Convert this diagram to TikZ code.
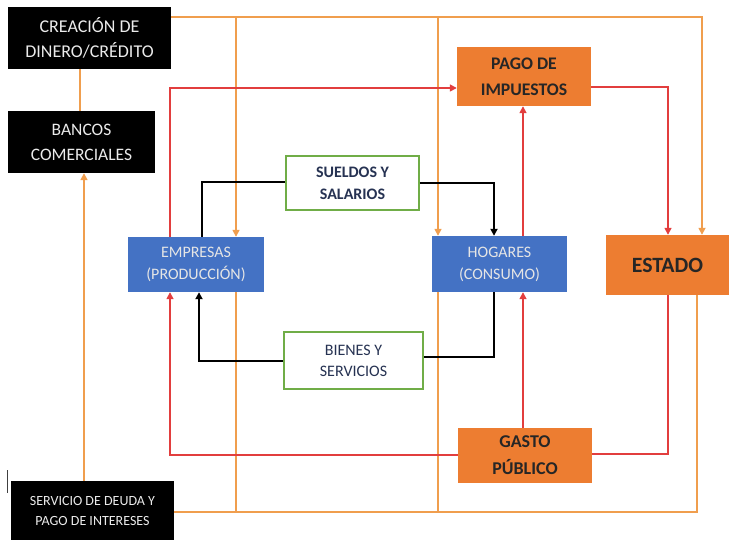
\documentclass[tikz,border=0pt]{standalone}
\usepackage{fontspec}
\setmainfont{Carlito}
\usetikzlibrary{arrows.meta}
\definecolor{lorange}{RGB}{240,158,78}
\definecolor{lred}{RGB}{226,62,62}
\definecolor{borange}{RGB}{237,125,49}
\definecolor{bblue}{RGB}{68,114,196}
\definecolor{bgreen}{RGB}{112,173,71}
\definecolor{navy}{RGB}{38,50,82}
\tikzset{
  blk/.style={fill=black,text=white!92!black,align=center,inner sep=0pt},
  blu/.style={fill=bblue,text=white!90!black,align=center,inner sep=0pt},
  org/.style={fill=borange,text=black!85,align=center,inner sep=0pt},
  grn/.style={draw=bgreen,line width=1.6pt,fill=white,text=navy,align=center,inner sep=0pt},
  oline/.style={draw=lorange,line width=1.6pt},
  rline/.style={draw=lred,line width=1.6pt},
  kline/.style={draw=black,line width=1.8pt},
  tip/.style={-{Triangle[length=7pt,width=7pt]}},
}
\begin{document}
\begin{tikzpicture}[x=1pt,y=-1pt]
\useasboundingbox (0,0) rectangle (729,540);
% boxes
\node[blk,minimum width=163pt,minimum height=62pt,font=\fontsize{18}{25}\selectfont] (cre) at (89.5,38) {CREACIÓN DE\\DINERO/CRÉDITO};
\node[blk,minimum width=147pt,minimum height=62pt,font=\fontsize{17.5}{25}\selectfont] (ban) at (81.5,142) {BANCOS\\COMERCIALES};
\node[blk,minimum width=163pt,minimum height=60pt,font=\fontsize{14}{20}\selectfont] (ser) at (92.5,511) {SERVICIO DE DEUDA Y\\PAGO DE INTERESES};
\node[blu,minimum width=136pt,minimum height=55pt,font=\fontsize{16}{22}\selectfont] (emp) at (196,264.5) {EMPRESAS\\(PRODUCCIÓN)};
\node[blu,minimum width=135pt,minimum height=56pt,font=\fontsize{16}{22}\selectfont] (hog) at (499.5,264) {HOGARES\\(CONSUMO)};
\node[grn,minimum width=133pt,minimum height=54pt,font=\bfseries\fontsize{16}{22}\selectfont] (sue) at (352.5,183) {SUELDOS Y\\SALARIOS};
\node[grn,minimum width=139pt,minimum height=57pt,font=\fontsize{16}{21}\selectfont] (bie) at (353.5,360.5) {BIENES Y\\SERVICIOS};
\node[org,minimum width=123pt,minimum height=60pt,font=\bfseries\fontsize{21.8}{24}\selectfont] (est) at (667.5,265) {ESTADO};
\node[org,minimum width=134pt,minimum height=59pt,font=\bfseries\fontsize{17.7}{26}\selectfont] (pag) at (524,76.5) {PAGO DE\\IMPUESTOS};
\node[org,minimum width=134pt,minimum height=55pt,font=\bfseries\fontsize{18}{27}\selectfont] (gas) at (525,455.5) {GASTO\\PÚBLICO};
% stray mark
\draw[line width=1pt,black!75] (7,470) -- (7,493);
% orange connectors
\coordinate (ot1) at (236,17);
\coordinate (ot2) at (438,17);
\coordinate (ob1) at (236,512);
\coordinate (ob2) at (438,512);
\draw[oline] (cre.south -| 80,0) -- (ban.north -| 80,0);
\draw[oline,tip] (ser.north -| 84,0) -- (ban.south -| 84,0);
\draw[oline,tip] (cre.east |- 0,17) -- (702,17) -- (est.north -| 702,0);
\draw[oline,tip] (ot1) -- (emp.north -| ot1);
\draw[oline,tip] (ot2) -- (hog.north -| ot2);
\draw[oline] (ser.east |- 0,512) -- (697,512) -- (est.south -| 697,0);
\draw[oline] (ob1) -- (emp.south -| ob1);
\draw[oline] (ob2) -- (hog.south -| ob2);
% red connectors
\draw[rline,tip] (emp.north -| 170,0) |- (pag.west |- 0,88);
\draw[rline,tip] (pag.east |- 0,87) -| (est.north -| 668,0);
\draw[rline,tip] (hog.north -| 523,0) -- (pag.south -| 523,0);
\draw[rline] (est.south -| 668,0) |- (gas.east |- 0,454);
\draw[rline,tip] (gas.north -| 523,0) -- (hog.south -| 523,0);
\draw[rline,tip] (gas.west |- 0,455) -| (emp.south -| 170,0);
% black connectors
\draw[kline] (emp.north -| 202,0) |- (sue.west |- 0,182);
\draw[kline,tip] (sue.east |- 0,183) -| (hog.north -| 494,0);
\draw[kline] (hog.south -| 494,0) |- (bie.east |- 0,357);
\draw[kline,tip] (bie.west |- 0,361) -| (emp.south -| 199,0);
\end{tikzpicture}
\end{document}
